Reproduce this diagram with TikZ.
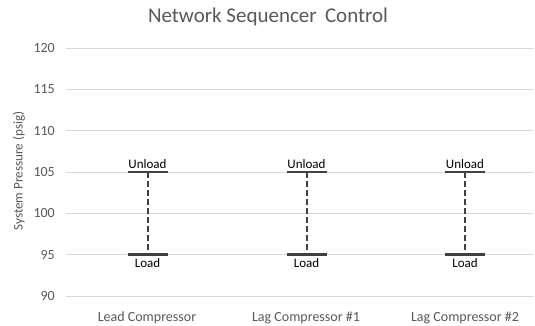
\documentclass[tikz,border=0pt]{standalone}
\usepackage{fontspec}
\setmainfont{Carlito}
\definecolor{txtgray}{HTML}{595959}
\definecolor{gridgray}{HTML}{D9D9D9}
\definecolor{bargray}{HTML}{404040}
\begin{document}
\begin{tikzpicture}[x=1pt,y=-1pt,
  tick/.style={anchor=east,text=txtgray,font=\fontsize{14}{16}\selectfont,inner sep=0pt},
  cat/.style={anchor=center,text=txtgray,font=\fontsize{14}{16}\selectfont,inner sep=0pt},
  grid/.style={draw=gridgray,line width=0.9pt},
  bar/.style={draw=bargray,line width=2.6pt},
  conn/.style={draw=bargray,line width=2pt,dash pattern=on 6pt off 3pt},
  lbl/.style={text=black,font=\fontsize{13}{15}\selectfont,inner sep=0pt}]
\useasboundingbox (0,0) rectangle (535,326);
\fill[white] (0,0) rectangle (535,326);
% title
\node[text=txtgray,font=\fontsize{21}{24}\selectfont,inner sep=0pt] (title) at (268,17) {Network Sequencer\ \,Control};
% gridlines and ticks
\foreach \v/\y in {120/48,115/89.3,110/130.6,105/172,100/213.3,95/254.6,90/296} {
  \draw[grid] (66,\y) -- (533,\y);
  \node[tick] (t\v) at (55,\y) {\v};
}
% axis title
\node[rotate=90,text=txtgray,font=\fontsize{13.2}{16}\selectfont,inner sep=0pt] (ytitle) at (19,171) {System Pressure (psig)};
% categories
\node[cat] (c1) at (147,318) {Lead Compressor};
\node[cat] (c2) at (306,318) {Lag Compressor \#1};
\node[cat] (c3) at (465,318) {Lag Compressor \#2};
% bars
\foreach \i/\x in {1/147.5,2/306.5,3/465} {
  \coordinate (u\i) at (\x,172);
  \coordinate (l\i) at (\x,254.6);
  \draw[bar] ([xshift=-20pt]u\i) -- ([xshift=20pt]u\i);
  \draw[bar] ([xshift=-20pt]l\i) -- ([xshift=20pt]l\i);
  \draw[conn] (u\i) -- (l\i);
  \node[lbl] (ul\i) at ([yshift=7.5pt]u\i) {Unload};
  \node[lbl] (ll\i) at ([yshift=-8.5pt]l\i) {Load};
}
\end{tikzpicture}
\end{document}
